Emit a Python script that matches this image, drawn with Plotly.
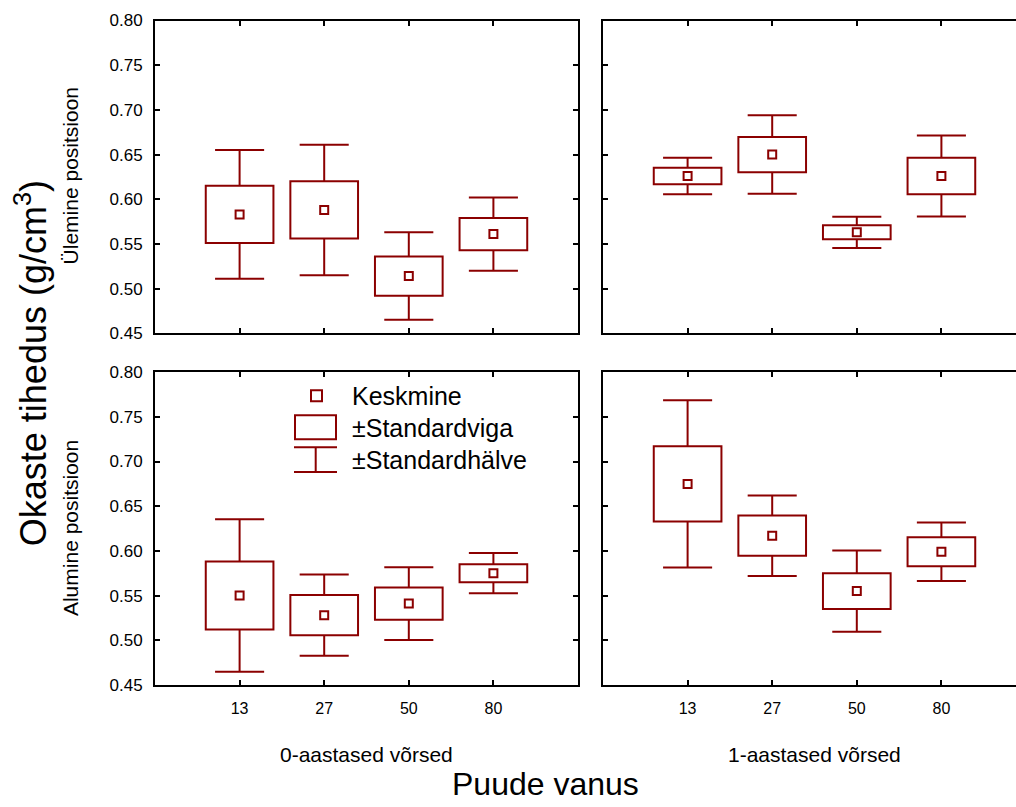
import plotly.graph_objects as go

# ---------------- data ----------------
ages = ["13", "27", "50", "80"]          # Puude vanus (tree age)
slots = [1, 2, 3, 4]                     # category slots on the x axis
y_ticks = [0.45, 0.50, 0.55, 0.60, 0.65, 0.70, 0.75, 0.80]

# Ülemine positsioon, 0-aastased võrsed
top0_mean = [0.583, 0.588, 0.514, 0.561]
top0_se = [0.032, 0.032, 0.022, 0.018]
top0_sd = [0.072, 0.073, 0.049, 0.041]
# Ülemine positsioon, 1-aastased võrsed
top1_mean = [0.626, 0.650, 0.563, 0.626]
top1_se = [0.0093, 0.0197, 0.0078, 0.0205]
top1_sd = [0.0205, 0.044, 0.0175, 0.0453]
# Alumine positsioon, 0-aastased võrsed
bot0_mean = [0.550, 0.528, 0.541, 0.575]
bot0_se = [0.038, 0.0225, 0.018, 0.010]
bot0_sd = [0.0853, 0.0455, 0.0407, 0.0225]
# Alumine positsioon, 1-aastased võrsed
bot1_mean = [0.675, 0.617, 0.555, 0.599]
bot1_se = [0.042, 0.0225, 0.020, 0.0163]
bot1_sd = [0.0935, 0.045, 0.0455, 0.0328]

# ---------------- styling / layout ----------------
W, H = 1016, 807
RED = "#8B0000"
FONT = "Arial, Liberation Sans, sans-serif"


def px(x):
    return x / W


def py(y):
    # vertical placement helper (compensates the observed vertical squeeze of the page)
    yi = (y - 8.45) / 0.9774
    return 1 - yi / H


L0, R0, L1 = 155, 578, 603
T0, B0, T1, B1 = 20, 333, 372, 685
unit = (R0 - L0) / 5.0
xmax_right = (W - L1) / unit

BOX_HW = 0.40
CAP_HW = 0.29


def paths(mean, se, sd):
    xs, ys = [], []
    for p, m, s, d in zip(slots, mean, se, sd):
        xs += [p, p + BOX_HW, p + BOX_HW, p - BOX_HW, p - BOX_HW, p, None]
        ys += [m - s, m - s, m + s, m + s, m - s, m - s, None]
        xs += [p, p, None, p - CAP_HW, p + CAP_HW, None]
        ys += [m + s, m + d, None, m + d, m + d, None]
        xs += [p, p, None, p - CAP_HW, p + CAP_HW, None]
        ys += [m - s, m - d, None, m - d, m - d, None]
    return xs, ys


fig = go.Figure()
panels = [
    (top0_mean, top0_se, top0_sd, "x", "y"),
    (top1_mean, top1_se, top1_sd, "x2", "y2"),
    (bot0_mean, bot0_se, bot0_sd, "x3", "y3"),
    (bot1_mean, bot1_se, bot1_sd, "x4", "y4"),
]
for mean, se, sd, xa, ya in panels:
    xs, ys = paths(mean, se, sd)
    fig.add_trace(go.Scatter(x=xs, y=ys, mode="lines", xaxis=xa, yaxis=ya,
                             line=dict(color=RED, width=2), showlegend=False,
                             hoverinfo="skip"))
    fig.add_trace(go.Scatter(x=slots, y=mean, mode="markers", xaxis=xa, yaxis=ya,
                             marker=dict(symbol="square-open", size=8, color=RED,
                                         line=dict(color=RED, width=2)),
                             showlegend=False))

common = dict(showline=True, linecolor="black", linewidth=2, ticks="inside",
              ticklen=5, tickwidth=2, tickcolor="black", showgrid=False,
              zeroline=False, tickfont=dict(family=FONT, size=16, color="black"))

xleft = dict(common, domain=[px(L0), px(R0)], range=[0, 5], tickvals=slots,
             ticktext=ages, mirror="ticks", ticklabelstandoff=8)
xright = dict(common, domain=[px(L1), 1.0], range=[0, xmax_right], tickvals=slots,
              ticktext=ages, mirror="ticks", ticklabelstandoff=8)
ytop = [py(B0), py(T0)]
ybot = [py(B1), py(T1)]
yleft = dict(common, range=[0.45, 0.80], tickvals=y_ticks, tickformat=".2f",
             mirror="ticks", ticklabelstandoff=7)
yleft["tickfont"] = dict(family=FONT, size=17, color="black")
yright = dict(common, range=[0.45, 0.80], tickvals=y_ticks, showticklabels=False,
              mirror=False)

fig.update_layout(
    width=W, height=H, autosize=False, margin=dict(l=0, r=0, t=0, b=0, pad=0),
    paper_bgcolor="white", plot_bgcolor="white",
    xaxis=dict(xleft, anchor="y", showticklabels=False),
    yaxis=dict(yleft, domain=ytop, anchor="x"),
    xaxis2=dict(xright, anchor="y2", showticklabels=False),
    yaxis2=dict(yright, domain=ytop, anchor="x2"),
    xaxis3=dict(xleft, anchor="y3"),
    yaxis3=dict(yleft, domain=ybot, anchor="x3"),
    xaxis4=dict(xright, anchor="y4"),
    yaxis4=dict(yright, domain=ybot, anchor="x4"),
)

ann = []


def text(x, y, s, size, angle=0, xanchor="center", yanchor="middle"):
    ann.append(dict(x=px(x), y=y, xref="paper", yref="paper", text=s,
                    showarrow=False, textangle=angle, xanchor=xanchor,
                    yanchor=yanchor, font=dict(family=FONT, size=size, color="black")))


text(70, py(176), "Ülemine positsioon", 21, -90)
text(70, py(528), "Alumine positsioon", 21, -90)
text(31, py(363), "Okaste tihedus (g/cm<sup>3</sup>)", 36, -90)
text(366, py(755), "0-aastased võrsed", 21)
text(814, py(755), "1-aastased võrsed", 21)
# bottom title: glyphs end at the page's lowest drawable row (descender space clipped)
text(545, -7.0 / H, "Puude vanus", 32, yanchor="bottom")
# legend
text(350, py(396), "Keskmine", 25, xanchor="left")
text(350, py(428), "±Standardviga", 25, xanchor="left")
text(350, py(460), "±Standardhälve", 25, xanchor="left")

shapes = [
    dict(type="rect", xref="paper", yref="paper", x0=px(311), x1=px(322), y0=py(401),
         y1=py(390), line=dict(color=RED, width=2)),
    dict(type="rect", xref="paper", yref="paper", x0=px(295), x1=px(336), y0=py(439),
         y1=py(415), line=dict(color=RED, width=2)),
    dict(type="line", xref="paper", yref="paper", x0=px(294), x1=px(337), y0=py(447),
         y1=py(447), line=dict(color=RED, width=2)),
    dict(type="line", xref="paper", yref="paper", x0=px(294), x1=px(337), y0=py(472),
         y1=py(472), line=dict(color=RED, width=2)),
    dict(type="line", xref="paper", yref="paper", x0=px(315.7), x1=px(315.7), y0=py(447),
         y1=py(472), line=dict(color=RED, width=2)),
]
fig.update_layout(annotations=ann, shapes=shapes)

fig.write_html("out.html", config={"responsive": False, "displayModeBar": False})
